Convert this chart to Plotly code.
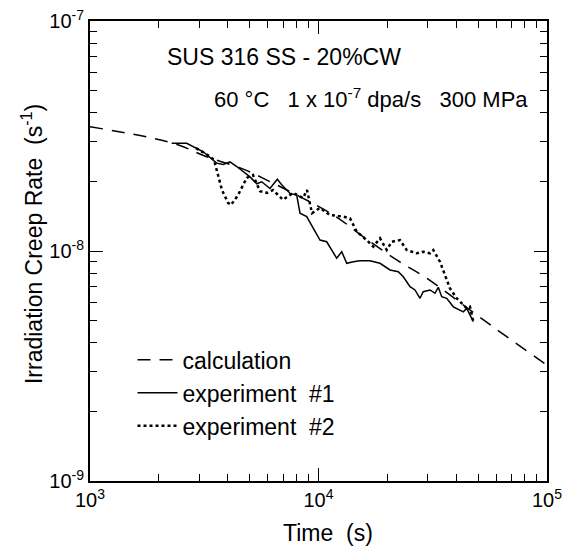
import plotly.graph_objects as go

# Calculation curve
calc_t = [1000, 2316, 3240, 4688, 5733, 11610, 15710, 21990, 29760, 49240, 66610, 100000]
calc_r = [3.47e-8, 2.94e-8, 2.57e-8, 2.27e-8, 2.07e-8, 1.434e-8, 1.153e-8, 9.14e-9,
          7.61e-9, 5.27e-9, 4.24e-9, 3.19e-9]

# Experiment #1
exp1_t = [2278, 2650, 3131, 3584, 3831, 4100, 4385, 5015, 5364, 5641, 6133, 6602, 6902,
          7505, 8029, 8299, 8879, 10150, 10860, 12010, 12640, 13290, 14200, 15190, 16800,
          18580, 20560, 22350, 23500, 25150, 26440, 27810, 28740, 30760, 32340, 33440,
          34610, 36390, 38900, 43030, 44530, 47590]
exp1_r = [2.94e-8, 2.94e-8, 2.70e-8, 2.41e-8, 2.38e-8, 2.44e-8, 2.33e-8, 2.10e-8, 1.96e-8,
          2.00e-8, 1.87e-8, 2.05e-8, 1.94e-8, 1.78e-8, 1.75e-8, 1.46e-8, 1.41e-8, 1.116e-8,
          1.097e-8, 9.30e-9, 9.93e-9, 8.84e-9, 8.98e-9, 9.07e-9, 9.07e-9, 8.84e-9, 8.27e-9,
          8.13e-9, 7.73e-9, 7.00e-9, 6.77e-9, 6.23e-9, 6.65e-9, 6.77e-9, 6.55e-9, 6.95e-9,
          6.33e-9, 6.23e-9, 5.72e-9, 5.44e-9, 5.63e-9, 4.93e-9]

# Experiment #2
exp2_t = [2910, 3284, 3489, 3595, 3782, 4018, 4141, 4444, 4852, 5169, 5546, 5952, 6321,
          6993, 7734, 8554, 8907, 9367, 10150, 11230, 12840, 13740, 14700, 16250, 17370,
          18580, 19890, 20910, 22740, 24320, 26900, 28740, 30760, 31790, 34010, 37620,
          40250, 44530, 46030, 47590]
exp2_r = [2.80e-8, 2.61e-8, 2.49e-8, 2.21e-8, 1.84e-8, 1.62e-8, 1.585e-8, 1.75e-8, 2.08e-8,
          2.14e-8, 1.82e-8, 1.79e-8, 1.84e-8, 1.67e-8, 1.79e-8, 1.70e-8, 1.84e-8, 1.46e-8,
          1.54e-8, 1.434e-8, 1.41e-8, 1.387e-8, 1.213e-8, 1.116e-8, 1.044e-8, 1.136e-8,
          1.010e-8, 1.097e-8, 1.116e-8, 1.010e-8, 9.77e-9, 9.93e-9, 9.77e-9, 1.010e-8,
          8.98e-9, 6.88e-9, 6.23e-9, 5.63e-9, 5.72e-9, 4.93e-9]

# Tick labels
x_tickvals = [1e3, 1e4, 1e5]
x_ticktext = ["10<sup>3</sup>", "10<sup>4</sup>", "10<sup>5</sup>"]
y_tickvals = [1e-9, 1e-8, 1e-7]
y_ticktext = ["10<sup>-9</sup>", "10<sup>-8</sup>", "10<sup>-7</sup>"]
x_minor = [m * 10 ** e for e in (3, 4) for m in range(2, 10)]
y_minor = [m * 10.0 ** e for e in (-9, -8) for m in range(2, 10)]

FONT = "Liberation Sans, Arial, Helvetica, sans-serif"

fig = go.Figure()
fig.add_trace(go.Scatter(x=calc_t, y=calc_r, mode="lines", name="calculation",
                         line=dict(color="black", width=1.5, dash="13px,9px", shape="spline")))
fig.add_trace(go.Scatter(x=exp1_t, y=exp1_r, mode="lines", name="experiment  #1",
                         line=dict(color="black", width=1.5)))
fig.add_trace(go.Scatter(x=exp2_t, y=exp2_r, mode="lines", name="experiment  #2",
                         line=dict(color="black", width=2.5, dash="dot")))

axis_common = dict(
    type="log", showgrid=False, zeroline=False, showline=True, linecolor="black",
    linewidth=2, mirror="ticks", ticks="inside", ticklen=13, tickwidth=1.2,
    tickcolor="black", automargin=False, tickmode="array",
    tickfont=dict(family=FONT, size=20, color="black"),
)
minor_common = dict(ticks="inside", ticklen=7, tickwidth=1.2, tickcolor="black",
                    showgrid=False, tickmode="array")

fig.update_layout(
    width=567, height=548,
    margin=dict(l=90, r=20, t=21, b=67),
    paper_bgcolor="white", plot_bgcolor="white",
    font=dict(family=FONT, color="black"),
    xaxis=dict(axis_common, range=[3, 5], tickvals=x_tickvals, ticktext=x_ticktext,
               minor=dict(minor_common, tickvals=x_minor)),
    yaxis=dict(axis_common, range=[-9, -7], tickvals=y_tickvals, ticktext=y_ticktext,
               minor=dict(minor_common, tickvals=y_minor)),
    legend=dict(x=0.093, y=0.31, xanchor="left", yanchor="top",
                bgcolor="rgba(0,0,0,0)", font=dict(family=FONT, size=23),
                itemwidth=40, tracegroupgap=0),
    showlegend=True,
)

# Axis titles
fig.add_annotation(text="Time  (s)", xref="paper", yref="paper",
                   x=0.52, y=-0.113, xanchor="center", yanchor="middle", showarrow=False,
                   font=dict(family=FONT, size=23))
fig.add_annotation(text="Irradiation Creep Rate  (s<sup>-1</sup>)", xref="paper", yref="paper",
                   x=-0.127, y=0.515, xanchor="center", yanchor="middle", showarrow=False,
                   textangle=-90, font=dict(family=FONT, size=23))

# In-plot labels
fig.add_annotation(text="SUS 316 SS - 20%CW", xref="paper", yref="paper",
                   x=0.164, y=0.922, xanchor="left", yanchor="middle", showarrow=False,
                   font=dict(family=FONT, size=23))
fig.add_annotation(text="60 °C   1 x 10<sup>-7</sup> dpa/s   300 MPa", xref="paper", yref="paper",
                   x=0.267, y=0.832, xanchor="left", yanchor="middle", showarrow=False,
                   font=dict(family=FONT, size=22))

fig.write_html(
    "out.html",
    config={"displayModeBar": False},
    post_script="document.body.style.margin='0';document.body.style.overflow='hidden';",
)
